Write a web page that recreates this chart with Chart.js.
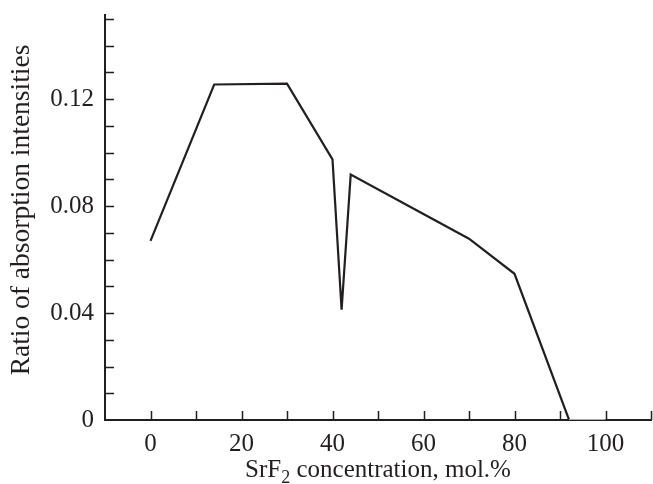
<!DOCTYPE html>
<html>
<head>
<meta charset="utf-8">
<script src="https://cdn.jsdelivr.net/npm/chart.js@4.4.1/dist/chart.umd.min.js"></script>
<style>
  html, body { margin: 0; padding: 0; background: #fff; }
  #wrap { width: 653px; height: 484px; position: relative; }
</style>
</head>
<body>
<div id="wrap"><canvas id="c" width="653" height="484"></canvas></div>
<script>
// ---- data ----
const concentration = [0, 14, 30, 40, 42, 44, 70, 80, 92, 100];
const ratio = [0.067, 0.1255, 0.1258, 0.0975, 0.0413, 0.0918, 0.0678, 0.0547, 0, 0];
const xTickLabels = [0, 20, 40, 60, 80, 100];
const yTickLabels = [0, 0.04, 0.08, 0.12];
const xMinorTicks = [0, 10, 20, 30, 40, 50, 60, 70, 80, 90, 100, 110];
const yMinorTicks = [0.01, 0.02, 0.03, 0.04, 0.05, 0.06, 0.07, 0.08, 0.09, 0.10, 0.11, 0.12, 0.13, 0.14, 0.15];
const xTitleParts = ["SrF", "2", " concentration, mol.%"];
const yTitle = "Ratio of absorption intensities";

const FONT = "'Liberation Serif', 'Times New Roman', serif";
const INK = '#231f20';

const innerTicks = {
  id: 'innerTicks',
  afterDraw(chart) {
    const ctx = chart.ctx;
    const xs = chart.scales.x, ys = chart.scales.y;
    const ca = chart.chartArea;
    ctx.save();
    ctx.strokeStyle = INK;
    ctx.lineWidth = 1.5;
    ctx.beginPath();
    xMinorTicks.forEach(v => {
      const px = Math.round(xs.getPixelForValue(v)) + 0.5;
      ctx.moveTo(px, ca.bottom);
      ctx.lineTo(px, ca.bottom - 9);
    });
    yMinorTicks.forEach(v => {
      const py = Math.round(ys.getPixelForValue(v)) + 0.5;
      ctx.moveTo(ca.left, py);
      ctx.lineTo(ca.left + 9, py);
    });
    ctx.stroke();

    // titles
    ctx.fillStyle = INK;
    const big = "25px " + FONT, small = "18px " + FONT;
    ctx.font = big;
    const w0 = ctx.measureText(xTitleParts[0]).width;
    const w2 = ctx.measureText(xTitleParts[2]).width;
    ctx.font = small;
    const w1 = ctx.measureText(xTitleParts[1]).width;
    const total = w0 + w1 + w2;
    const cx = (ca.left + ca.right) / 2;
    let x0 = cx - total / 2;
    const base = 477;
    ctx.textBaseline = 'alphabetic';
    ctx.textAlign = 'left';
    ctx.font = big;
    ctx.fillText(xTitleParts[0], x0, base);
    ctx.font = small;
    ctx.fillText(xTitleParts[1], x0 + w0, base + 6);
    ctx.font = big;
    ctx.fillText(xTitleParts[2], x0 + w0 + w1, base);

    // y title
    ctx.save();
    ctx.translate(29, 210);
    ctx.rotate(-Math.PI / 2);
    ctx.textAlign = 'center';
    ctx.textBaseline = 'alphabetic';
    ctx.font = "27.5px " + FONT;
    ctx.fillText(yTitle, 0, 0);
    ctx.restore();
    ctx.restore();
  }
};

new Chart(document.getElementById('c'), {
  type: 'line',
  data: {
    datasets: [{
      data: concentration.map((c, i) => ({ x: c, y: ratio[i] })),
      borderColor: INK,
      borderWidth: 2.2,
      pointRadius: 0,
      tension: 0,
      fill: false,
      segment: {
        borderColor: ctx => (ctx.p0.parsed.y === 0 && ctx.p1.parsed.y === 0) ? '#aaaaaa' : INK
      }
    }]
  },
  options: {
    responsive: false,
    animation: false,
    devicePixelRatio: 1,
    layout: { padding: { left: 0, right: 2, top: 15, bottom: 0 } },
    plugins: { legend: { display: false }, tooltip: { enabled: false } },
    scales: {
      x: {
        type: 'linear',
        min: -10,
        max: 110,
        afterFit(scale) { scale.height = 64; scale.paddingLeft = 0; scale.paddingRight = 0; },
        afterBuildTicks(scale) { scale.ticks = xTickLabels.map(v => ({ value: v })); },
        grid: { display: false, drawTicks: false },
        border: { display: true, color: INK, width: 2 },
        ticks: {
          color: INK,
          font: { family: FONT, size: 25 },
          padding: 9,
          maxRotation: 0,
          autoSkip: false,
          callback: v => String(v)
        }
      },
      y: {
        type: 'linear',
        min: 0,
        max: 0.1515,
        afterFit(scale) { scale.width = 105; scale.paddingTop = 0; scale.paddingBottom = 0; },
        afterBuildTicks(scale) { scale.ticks = yTickLabels.map(v => ({ value: v })); },
        grid: { display: false, drawTicks: false },
        border: { display: true, color: INK, width: 2 },
        ticks: {
          color: INK,
          font: { family: FONT, size: 25 },
          padding: 11,
          autoSkip: false,
          callback: v => v === 0 ? '0' : v.toFixed(2)
        }
      }
    }
  },
  plugins: [innerTicks]
});
</script>
</body>
</html>
